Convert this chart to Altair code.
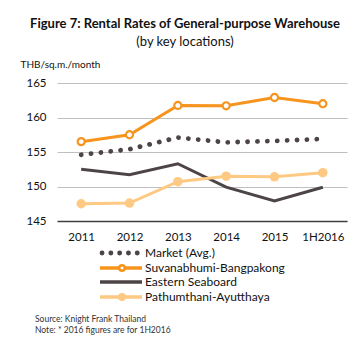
import altair as alt
import pandas as pd

years = ["2011", "2012", "2013", "2014", "2015", "1H2016"]
series_names = ["Market (Avg.)", "Suvanabhumi-Bangpakong", "Eastern Seaboard", "Pathumthani-Ayutthaya"]
market = [154.6, 155.4, 157.1, 156.4, 156.6, 156.9]
suvan = [156.5, 157.5, 161.75, 161.7, 162.9, 162.0]
eastern = [152.5, 151.7, 153.3, 149.9, 147.9, 149.9]
pathum = [147.5, 147.6, 150.7, 151.5, 151.4, 152.0]
y_ticks = [145, 150, 155, 160, 165]
source_lines = ["Source: Knight Frank Thailand", "Note: * 2016 figures are for 1H2016"]

FONT = "Lato"
ORANGE = "#F7941D"
DARK = "#4D4446"
LIGHT = "#FDC983"

rows = []
for name, vals in zip(series_names, [market, suvan, eastern, pathum]):
    for yr, v in zip(years, vals):
        rows.append({"series": name, "year": yr, "value": v})
df = pd.DataFrame(rows)

x_enc = alt.X("year:O", sort=years, scale=alt.Scale(type="point", padding=0.5),
              axis=alt.Axis(title=None, labelAngle=0, ticks=False, domain=True,
                            domainColor="#404040", domainWidth=1.3, labelPadding=10,
                            labelFont=FONT, labelFontSize=11.5, labelColor="#111111", grid=False))
y_enc = alt.Y("value:Q", scale=alt.Scale(domain=[145, 165], nice=False, zero=False),
              axis=alt.Axis(values=y_ticks, title="THB/sq.m./month", titleAngle=0,
                            titleX=-37, titleY=-19, titleAlign="left", titleBaseline="middle",
                            titleFont=FONT, titleFontSize=10, titleFontWeight="normal",
                            titleColor="#111111", domain=False, ticks=False, labelPadding=11,
                            labelFont=FONT, labelFontSize=11.5, labelColor="#111111",
                            gridColor="#BFBFBF", gridWidth=1))

base = alt.Chart(df).encode(x=x_enc, y=y_enc)

def sel(name):
    return base.transform_filter(alt.datum.series == name)

market_line = sel(series_names[0]).mark_line(color=DARK, strokeWidth=4.8, strokeCap="round",
                                              strokeDash=[0.1, 9.8])
suvan_line = sel(series_names[1]).mark_line(color=ORANGE, strokeWidth=3)
suvan_pts = sel(series_names[1]).mark_point(shape="circle", size=50, filled=True, fill="white",
                                            stroke=ORANGE, strokeWidth=2.2, opacity=1)
east_line = sel(series_names[2]).mark_line(color=DARK, strokeWidth=3)
path_line = sel(series_names[3]).mark_line(color=LIGHT, strokeWidth=3)
path_pts = sel(series_names[3]).mark_point(shape="circle", size=90, filled=True, color=LIGHT, opacity=1)

# legend (drawn below plot)
leg = pd.DataFrame({"series": series_names})
row_y = [170, 185, 199, 214]
x0, x1, xm, xt = 45, 85, 65, 88

legend_layers = []
for i, name in enumerate(series_names):
    d = alt.Chart(leg).transform_filter(alt.datum.series == name)
    yv = alt.value(row_y[i])
    if i == 0:
        legend_layers.append(d.mark_rule(color=DARK, strokeWidth=4.8, strokeCap="round",
                                         strokeDash=[0.1, 8.7]).encode(
            x=alt.value(x0), x2=alt.value(x1), y=yv))
    else:
        col = [None, ORANGE, DARK, LIGHT][i]
        legend_layers.append(d.mark_rule(color=col, strokeWidth=3.5).encode(
            x=alt.value(x0 - 2), x2=alt.value(x1), y=yv))
        if i == 1:
            legend_layers.append(d.mark_point(shape="circle", size=30, filled=True, fill="white",
                                              stroke=ORANGE, strokeWidth=2.5, opacity=1).encode(
                x=alt.value(xm), y=yv))
        if i == 3:
            legend_layers.append(d.mark_point(shape="circle", size=65, filled=True, color=LIGHT,
                                              opacity=1).encode(x=alt.value(xm), y=yv))
    legend_layers.append(d.mark_text(align="left", baseline="middle", font=FONT, fontSize=12,
                                     color="#111111").encode(
        x=alt.value(xt), y=yv, text="series:N"))

src_layers = []
src = pd.DataFrame({"line": source_lines})
for j, line in enumerate(source_lines):
    src_layers.append(alt.Chart(src).transform_filter(alt.datum.line == line).mark_text(
        align="left", baseline="middle", font=FONT, fontSize=8.5, color="#333333").encode(
        x=alt.value(-22), y=alt.value([236, 247][j]), text="line:N"))

chart = alt.layer(
    market_line, east_line, path_line, path_pts, suvan_line, suvan_pts,
    *legend_layers, *src_layers
).properties(
    width=290, height=138,
    title=alt.TitleParams(text="Figure 7: Rental Rates of General-purpose Warehouse",
                          subtitle="(by key locations)", anchor="middle", dx=-17,
                          font=FONT, fontSize=13, fontWeight="bold", color="#111111",
                          subtitleFont=FONT, subtitleFontSize=13, subtitleColor="#111111",
                          subtitlePadding=5, offset=10),
    autosize=alt.AutoSizeParams(type="none"),
    padding={"left": 57, "top": 83, "right": 13, "bottom": 132},
).configure_view(stroke=None)

chart.save("out.html", embed_options={"renderer": "svg", "actions": False})
